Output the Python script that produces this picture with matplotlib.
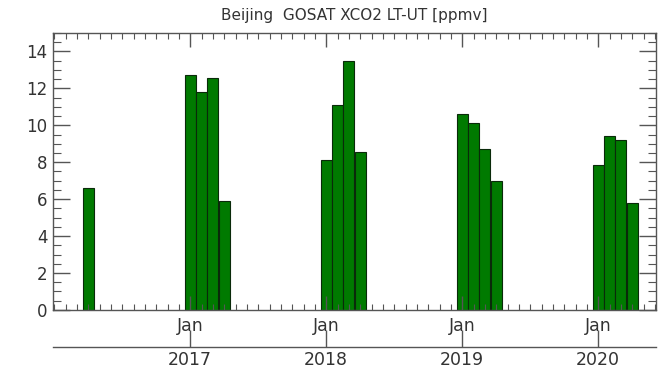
import matplotlib
matplotlib.use("Agg")
import matplotlib.pyplot as plt
import numpy as np
from matplotlib.ticker import MultipleLocator, FixedLocator

# months counted from Jan 2016 (0 = Jan 2016)
months = [3, 12, 13, 14, 15, 24, 25, 26, 27, 36, 37, 38, 39, 48, 49, 50, 51]
values = [6.6, 12.75, 11.8, 12.55, 5.9, 8.1, 11.1, 13.5, 8.55,
          10.6, 10.1, 8.7, 7.0, 7.85, 9.4, 9.2, 5.8]
jan_positions = [12, 24, 36, 48]
year_labels = ["2017", "2018", "2019", "2020"]
title = "Beijing  GOSAT XCO2 LT-UT [ppmv]"

txt = "#333333"
fig = plt.figure(figsize=(6.63, 3.69), dpi=100)
ax = fig.add_axes([0.080, 0.160, 0.9094, 0.7506])

ax.bar(months, values, width=0.97, color="#007a00", edgecolor="#0a2a0a", linewidth=0.8)

ax.set_xlim(-0.1, 53.1)
ax.set_ylim(0, 15)
ax.yaxis.set_major_locator(MultipleLocator(2))
ax.yaxis.set_minor_locator(MultipleLocator(0.5))
ax.xaxis.set_major_locator(FixedLocator(jan_positions))
ax.xaxis.set_minor_locator(MultipleLocator(1))
ax.set_xticklabels(["Jan"] * len(jan_positions))

ax.tick_params(axis="both", which="both", direction="in", top=True, right=True,
               colors="#555555", labelcolor=txt)
ax.tick_params(axis="y", which="major", length=12, width=1, labelsize=12, pad=4)
ax.tick_params(axis="y", which="minor", length=6, width=0.8)
ax.tick_params(axis="x", which="major", length=10, width=1, pad=5, labelsize=12.5)
ax.tick_params(axis="x", which="minor", length=4.5, width=0.8)
for s in ax.spines.values():
    s.set_color("#555555")
    s.set_linewidth(1.0)

ax.set_title(title, fontsize=11, color=txt, pad=9)

sec = ax.secondary_xaxis(-0.134)
sec.set_xticks(jan_positions)
sec.set_xticklabels(year_labels)
sec.tick_params(axis="x", which="both", direction="in", length=12, width=1,
                colors="#555555", labelcolor=txt, labelsize=12.5, pad=3)
sec.xaxis.set_minor_locator(FixedLocator([]))
sec.spines["bottom"].set_color("#555555")
sec.spines["bottom"].set_linewidth(1.0)

fig.savefig("out.png", dpi=100)
